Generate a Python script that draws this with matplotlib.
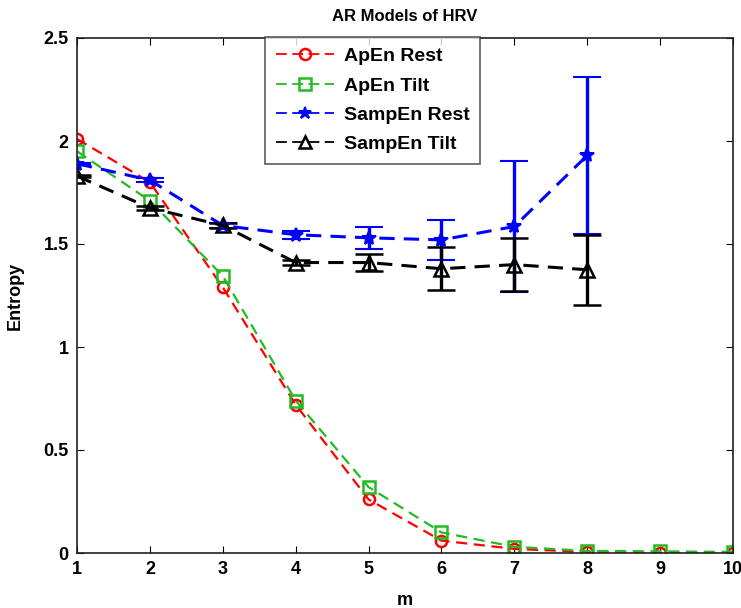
import matplotlib
matplotlib.use("Agg")
import matplotlib.pyplot as plt
from matplotlib.lines import Line2D
import numpy as np

m = [1, 2, 3, 4, 5, 6, 7, 8, 9, 10]
apen_rest = [2.01, 1.80, 1.29, 0.72, 0.26, 0.06, 0.02, 0.005, 0.0, 0.0]
apen_tilt = [1.95, 1.71, 1.345, 0.74, 0.32, 0.10, 0.03, 0.01, 0.008, 0.005]
m_samp = [1, 2, 3, 4, 5, 6, 7, 8]
sampen_rest = [1.89, 1.81, 1.59, 1.545, 1.53, 1.52, 1.585, 1.93]
sampen_rest_err = [0.005, 0.01, 0.01, 0.02, 0.053, 0.097, 0.32, 0.38]
sampen_tilt = [1.83, 1.675, 1.59, 1.41, 1.41, 1.38, 1.40, 1.375]
sampen_tilt_err = [0.003, 0.008, 0.01, 0.01, 0.04, 0.105, 0.13, 0.17]

plt.rcParams['font.family'] = ['Liberation Sans', 'DejaVu Sans']
fig = plt.figure(figsize=(7.41, 6.08), dpi=100)
ax = fig.add_axes([77/741, 55/608, 656/741, 515/608])

green = '#22bb22'
ax.plot(m, apen_rest, color='red', ls='--', lw=1.6, marker='o', mfc='none', mec='red',
        ms=8, mew=1.8, dashes=(5, 3))
ax.plot(m, apen_tilt, color=green, ls='--', lw=1.6, marker='s', mfc='none', mec=green,
        ms=9, mew=1.8, dashes=(5, 3))
ax.errorbar(m_samp, sampen_rest, yerr=sampen_rest_err, color='blue', ls='--', lw=2.2,
            marker='*', ms=10, mew=1.5, capsize=10, capthick=2.2, elinewidth=2.4,
            dashes=(5, 3))
ax.errorbar(m_samp, sampen_tilt, yerr=sampen_tilt_err, color='black', ls='--', lw=2.2,
            marker='^', mfc='none', mec='black', ms=10, mew=1.8, capsize=10, capthick=2.2,
            elinewidth=2.4, dashes=(5, 3))

ax.set_xlim(1, 10)
ax.set_ylim(0, 2.5)
ax.set_xticks(m)
ax.set_yticks([0, 0.5, 1, 1.5, 2, 2.5])
ax.set_yticklabels(['0', '0.5', '1', '1.5', '2', '2.5'])
ax.tick_params(direction='in', top=True, right=True, length=5, labelsize=13, pad=6)
for lab in ax.get_xticklabels() + ax.get_yticklabels():
    lab.set_fontweight('bold')
for s in ax.spines.values():
    s.set_linewidth(1.2)
    s.set_color('#222222')

ax.set_title('AR Models of HRV', fontsize=12, fontweight='bold', pad=12)
ax.set_xlabel('m', fontsize=13, fontweight='bold', labelpad=10)
ax.set_ylabel('Entropy', fontsize=13, fontweight='bold', labelpad=14)

handles = [
    Line2D([], [], color='red', lw=1.3, ls='--', dashes=(6, 3), marker='o', mfc='none', mec='red', ms=8, mew=1.8),
    Line2D([], [], color=green, lw=1.3, ls='--', dashes=(6, 3), marker='s', mfc='none', mec=green, ms=8, mew=1.8),
    Line2D([], [], color='blue', lw=1.3, ls='--', dashes=(6, 3), marker='*', ms=9, mew=1.5),
    Line2D([], [], color='black', lw=1.3, ls='--', dashes=(6, 3), marker='^', mfc='none', mec='black', ms=9, mew=1.8),
]
labels = ['ApEn Rest', 'ApEn Tilt', 'SampEn Rest', 'SampEn Tilt']
leg = fig.legend(handles, labels, loc='upper left', bbox_to_anchor=(265/741, 1 - 37/608),
                 frameon=True, fancybox=False, edgecolor='#333333', handlelength=3.0,
                 borderpad=0.55, labelspacing=0.6, handletextpad=0.5, borderaxespad=0,
                 prop={'weight': 'bold', 'size': 14})
leg.get_frame().set_linewidth(1.2)

fig.savefig('out.png', dpi=100)
